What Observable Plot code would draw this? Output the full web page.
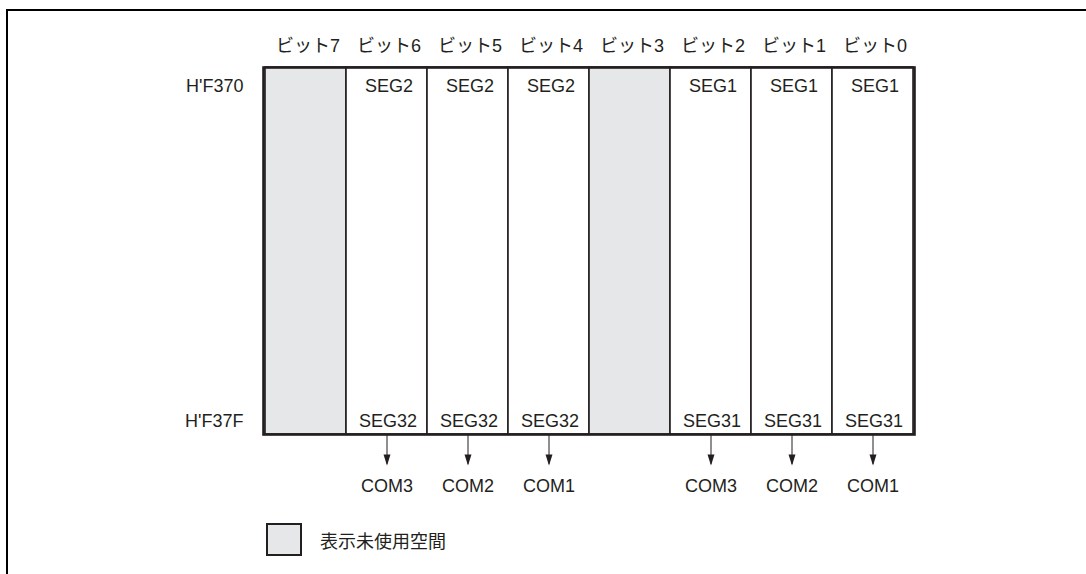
<!DOCTYPE html>
<html>
<head>
<meta charset="utf-8">
<script src="https://cdn.jsdelivr.net/npm/d3@7"></script>
<script src="https://cdn.jsdelivr.net/npm/@observablehq/plot@0.6"></script>
<style>
  html, body { margin: 0; padding: 0; background: #fff; }
  #wrap { position: relative; width: 1086px; height: 574px; overflow: hidden; font-family: "Liberation Sans", "Noto Sans CJK JP", sans-serif; color: #231f20; }
  #frame { position: absolute; left: 6px; top: 9px; right: -10px; bottom: -10px; border-top: 2px solid #000; border-left: 2px solid #000; }
  #chart { position: absolute; left: 0; top: 0; }
  #legend { position: absolute; left: 266px; top: 523px; display: flex; align-items: center; font-size: 18px; }
  #legend .sw { width: 32px; height: 29px; background: #e6e7e8; border: 2.5px solid #231f20; margin-right: 18px; }
</style>
</head>
<body>
<div id="wrap">
  <div id="frame"></div>
  <div id="chart"></div>
  <div id="legend"><div class="sw"></div><span>表示未使用空間</span></div>
</div>
<script>
// ---- data ----
const bits = ["ビット7", "ビット6", "ビット5", "ビット4", "ビット3", "ビット2", "ビット1", "ビット0"];
const unusedBits = ["ビット7", "ビット3"];
const addresses = ["H'F370", "H'F37F"];
const addressValues = [0xF370, 0xF37F];
const segTop = ["", "SEG2", "SEG2", "SEG2", "", "SEG1", "SEG1", "SEG1"];
const segBottom = ["", "SEG32", "SEG32", "SEG32", "", "SEG31", "SEG31", "SEG31"];
const comLabels = ["", "COM3", "COM2", "COM1", "", "COM3", "COM2", "COM1"];

const ink = "#231f20";
const gray = "#e6e7e8";
const font = "Liberation Sans, Noto Sans CJK JP, sans-serif";

const first = addressValues[0], last = addressValues[1];
const cols = bits.map((b, i) => ({bit: b, unused: unusedBits.includes(b), top: segTop[i], bottom: segBottom[i], com: comLabels[i]}));
const comCols = cols.filter(d => d.com !== "");
const addrTop = [{label: addresses[0], value: addressValues[0]}];
const addrBottom = [{label: addresses[1], value: addressValues[1]}];

const chart = Plot.plot({
  width: 1086,
  height: 574,
  marginLeft: 263,
  marginRight: 172,
  marginTop: 67,
  marginBottom: 140,
  style: {fontFamily: font, fontSize: "18px", color: ink, background: "transparent", overflow: "visible"},
  x: {type: "band", domain: bits, padding: 0, axis: null},
  y: {type: "linear", domain: [first - 0.5, last + 0.5], reverse: true, axis: null},
  marks: [
    Plot.barY(cols, {x: "bit", y1: first - 0.5, y2: last + 0.5, fill: d => d.unused ? gray : "#fff", stroke: ink, strokeWidth: 1.6, inset: 0}),
    Plot.frame({stroke: ink, strokeWidth: 2.6}),
    Plot.text(cols, {x: "bit", y: first - 1.5, text: "bit", dy: 2, dx: 2, fill: ink, fontSize: 18}),
    Plot.text(addrTop, {y: "value", text: "label", frameAnchor: "left", textAnchor: "end", dx: -20, dy: 7, fill: ink, fontSize: 18}),
    Plot.text(addrBottom, {y: "value", text: "label", frameAnchor: "left", textAnchor: "end", dx: -20, dy: -2, fill: ink, fontSize: 18}),
    Plot.text(cols, {x: "bit", y: first, text: "top", dy: 7, dx: 2, fill: ink, fontSize: 18}),
    Plot.text(cols, {x: "bit", y: last, text: "bottom", dy: -2, dx: 1, fill: ink, fontSize: 18}),
    Plot.ruleX(comCols, {x: "bit", y1: last + 0.5, y2: last + 1.8, stroke: ink, strokeWidth: 1}),
    Plot.dot(comCols, {
      x: "bit", y: last + 1.85, fill: ink, stroke: null,
      symbol: {draw(ctx) { ctx.moveTo(-3.5, -11); ctx.lineTo(3.5, -11); ctx.lineTo(0, 0); ctx.closePath(); }}
    }),
    Plot.text(comCols, {x: "bit", y: last + 3, text: "com", dy: -6, fill: ink, fontSize: 18})
  ]
});
document.getElementById("chart").appendChild(chart);
</script>
</body>
</html>
